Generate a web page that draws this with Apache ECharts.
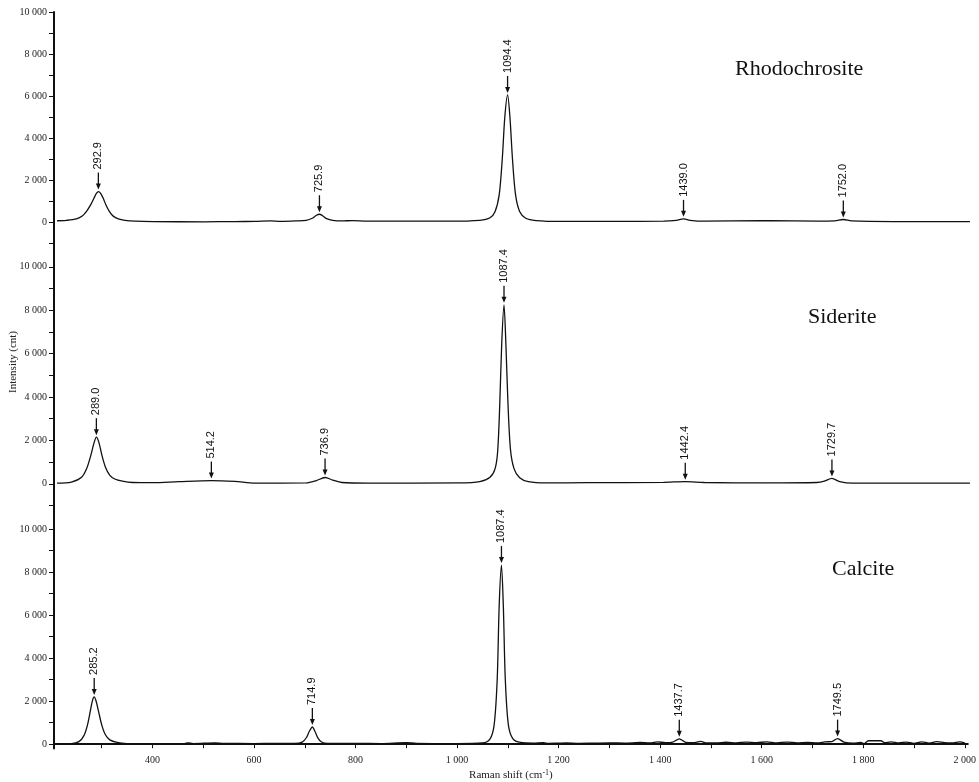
<!DOCTYPE html>
<html>
<head>
<meta charset="utf-8">
<script src="https://cdn.jsdelivr.net/npm/echarts@6/dist/echarts.min.js"></script>
<style>
  html, body { margin: 0; padding: 0; background: #fff; }
  #chart { width: 979px; height: 782px; }
</style>
</head>
<body>
<div id="chart"></div>
<script>
// 三个样品名称
const panelNames = ["Rhodochrosite", "Siderite", "Calcite"];

// 光谱数据 [拉曼位移, 强度]
const rhodoSpectrum = [
  [212, 60], [230, 80], [250, 150], [262, 300], [270, 520], [278, 830], [284, 1120],
  [289, 1360], [293, 1450], [297, 1380], [302, 1150], [308, 800], [315, 480], [322, 280],
  [332, 150], [345, 80], [365, 40], [400, 20], [500, 10], [560, 20], [600, 30], [630, 50],
  [650, 30], [680, 50], [700, 80], [712, 180], [720, 320], [726, 370], [732, 300],
  [740, 160], [752, 80], [770, 50], [790, 70], [820, 40], [900, 40], [980, 40],
  [1040, 80], [1060, 200], [1070, 500], [1078, 1300], [1084, 3000], [1089, 5000],
  [1094.4, 6050], [1099, 5000], [1104, 3000], [1110, 1300], [1118, 500], [1130, 180],
  [1150, 70], [1200, 30], [1300, 30], [1400, 40], [1425, 80], [1439, 150], [1452, 80],
  [1480, 40], [1590, 60], [1610, 60], [1700, 40], [1735, 50], [1752, 120], [1768, 50],
  [1850, 20], [2000, 20]
];
const sideriteSpectrum = [
  [212, 30], [240, 80], [260, 300], [270, 700], [278, 1300], [284, 1850], [289, 2150],
  [294, 1900], [300, 1300], [307, 750], [315, 400], [325, 220], [340, 120], [360, 60],
  [400, 50], [450, 100], [514.2, 150], [560, 110], [600, 30], [700, 40], [720, 150],
  [736.9, 290], [752, 170], [770, 60], [820, 30], [1000, 40], [1040, 100], [1060, 300],
  [1070, 700], [1075, 1500], [1079, 3600], [1083, 6500], [1087.4, 8250], [1091, 6500],
  [1095, 3800], [1100, 1600], [1107, 700], [1118, 280], [1135, 100], [1170, 40],
  [1250, 50], [1400, 70], [1442.4, 100], [1480, 60], [1600, 40], [1700, 60], [1715, 120],
  [1729.7, 250], [1745, 100], [1770, 30], [2000, 30]
];
const calciteSpectrum = [
  [212, 20], [240, 30], [255, 120], [265, 400], [272, 900], [278, 1600], [282, 2050],
  [285.2, 2200], [289, 2000], [294, 1500], [300, 900], [307, 450], [316, 200], [330, 80],
  [350, 30], [400, 20], [463, 30], [470, 60], [480, 30], [523, 60], [540, 40], [600, 30],
  [640, 40], [680, 40], [695, 100], [703, 300], [709, 600], [714.9, 800], [720, 600],
  [726, 280], [733, 100], [745, 40], [800, 40], [850, 30], [900, 70], [920, 40],
  [1000, 30], [1050, 60], [1065, 250], [1073, 900], [1079, 3000], [1083, 6500],
  [1087.4, 8330], [1091, 6500], [1095, 3000], [1101, 900], [1110, 250], [1125, 80],
  [1150, 50], [1170, 70], [1180, 40], [1200, 50], [1215, 60], [1240, 40], [1270, 50],
  [1300, 60], [1330, 50], [1360, 80], [1380, 60], [1395, 110], [1410, 70], [1425, 100],
  [1437.7, 250], [1450, 90], [1465, 70], [1480, 130], [1490, 60], [1510, 60], [1530, 90],
  [1550, 60], [1570, 100], [1590, 70], [1610, 110], [1630, 60], [1650, 100], [1670, 60],
  [1690, 80], [1710, 60], [1725, 110], [1738, 120], [1749.5, 260], [1762, 100],
  [1780, 50], [1795, 80], [1802, 30], [1810, 160], [1835, 160], [1842, 70], [1855, 110],
  [1870, 60], [1885, 100], [1900, 40], [1915, 110], [1930, 50], [1945, 120], [1960, 70],
  [1975, 60], [1990, 110], [2000, 60]
];

// 峰位标注 [位置, 峰高]
const rhodoPeaks = [[292.9, 1450], [725.9, 370], [1094.4, 6050], [1439.0, 150], [1752.0, 120]];
const sideritePeaks = [[289.0, 2150], [514.2, 150], [736.9, 290], [1087.4, 8250], [1442.4, 100], [1729.7, 250]];
const calcitePeaks = [[285.2, 2200], [714.9, 800], [1087.4, 8330], [1437.7, 250], [1749.5, 260]];

// 刻度
const xTickValues = [300, 400, 500, 600, 700, 800, 900, 1000, 1100, 1200, 1300, 1400, 1500, 1600, 1700, 1800, 1900, 2000];
const xLabelValues = [400, 600, 800, 1000, 1200, 1400, 1600, 1800, 2000];
const yLabelValues = [0, 2000, 4000, 6000, 8000, 10000];
const yTickValues = [0, 1000, 2000, 3000, 4000, 5000, 6000, 7000, 8000, 9000, 10000];
const yTickValuesExt = [-1000].concat(yTickValues);

const serif = '"Liberation Serif", "Times New Roman", serif';
const sans = '"Liberation Sans", Arial, sans-serif';

//千分位空格
function fmt(v) {
  return String(v).replace(/\B(?=(\d{3})+(?!\d))/g, " ");
}

//面板布局
const panels = [
  { top: 12, height: 233.1, min: -1100, max: 10000, ticks: yTickValuesExt, title: 58, titleLeft: 735 },
  { top: 245.1, height: 260.4, min: -1000, max: 11000, ticks: yTickValuesExt, title: 306, titleLeft: 808 },
  { top: 505.5, height: 243, min: -200, max: 11100, ticks: yTickValues, title: 558, titleLeft: 832 }
];
const spectra = [rhodoSpectrum, sideriteSpectrum, calciteSpectrum];
const peaks = [rhodoPeaks, sideritePeaks, calcitePeaks];

//箭头+竖排标注
function renderPeak(params, api) {
  const p = api.coord([api.value(0), api.value(1)]);
  const x = p[0];
  const tip = p[1] - 2;
  const label = api.value(0).toFixed(1);
  return {
    type: "group",
    children: [
      { type: "line", shape: { x1: x, y1: tip - 17, x2: x, y2: tip - 4 }, style: { stroke: "#111", lineWidth: 1.3 } },
      { type: "polygon", shape: { points: [[x, tip], [x - 2.5, tip - 6], [x + 2.5, tip - 6]] }, style: { fill: "#111" } },
      {
        type: "text",
        x: x,
        y: tip - 20,
        rotation: Math.PI / 2,
        style: { text: label, font: "11px " + sans, fill: "#111", align: "left", verticalAlign: "middle" }
      }
    ]
  };
}

const option = {
  animation: false,
  backgroundColor: "#fff",
  title: panels.map((p, i) => ({
    text: panelNames[i],
    left: p.titleLeft,
    top: p.title,
    padding: 0,
    textStyle: { fontFamily: serif, fontSize: 22, fontWeight: "normal", color: "#111" }
  })),
  grid: panels.map(p => ({ left: 54, right: 6, top: p.top, height: p.height })),
  xAxis: panels.map((p, i) => ({
    type: "value",
    gridIndex: i,
    min: 206,
    max: 2006,
    show: i === 2,
    name: i === 2 ? "{a|Raman shift (cm}{s|-1}{a|)}" : "",
    nameLocation: "middle",
    nameGap: 20,
    nameTextStyle: {
      rich: {
        a: { fontFamily: serif, fontSize: 11, color: "#222", lineHeight: 14 },
        s: { fontFamily: serif, fontSize: 8, color: "#222", verticalAlign: "top", lineHeight: 9 }
      }
    },
    axisLine: { show: true, lineStyle: { color: "#111", width: 2 } },
    axisTick: { show: true, length: 4, lineStyle: { color: "#111" }, customValues: xTickValues },
    axisLabel: { customValues: xLabelValues, formatter: fmt, fontFamily: serif, fontSize: 10, color: "#222", margin: 7 },
    splitLine: { show: false }
  })),
  yAxis: panels.map((p, i) => ({
    type: "value",
    gridIndex: i,
    min: p.min,
    max: p.max,
    axisLine: { show: true, lineStyle: { color: "#111", width: 2 } },
    axisTick: { show: true, length: 5, lineStyle: { color: "#111" }, customValues: p.ticks },
    axisLabel: { customValues: yLabelValues, formatter: fmt, fontFamily: serif, fontSize: 10, color: "#222", margin: 7 },
    splitLine: { show: false }
  })),
  graphic: [
    {
      type: "text",
      x: 13,
      y: 362,
      rotation: Math.PI / 2,
      style: { text: "Intensity (cnt)", font: "11px " + serif, fill: "#222", align: "center", verticalAlign: "middle" }
    }
  ],
  series: []
};

spectra.forEach((d, i) => {
  option.series.push({
    type: "line",
    name: panelNames[i],
    xAxisIndex: i,
    yAxisIndex: i,
    data: d,
    showSymbol: false,
    smooth: 0.3,
    lineStyle: { color: "#111", width: 1.3 }
  });
  option.series.push({
    type: "custom",
    xAxisIndex: i,
    yAxisIndex: i,
    data: peaks[i],
    encode: { x: 0, y: 1 },
    clip: false,
    renderItem: renderPeak
  });
});

const em = echarts.init(document.getElementById("chart"));
em.setOption(option);
</script>
</body>
</html>
